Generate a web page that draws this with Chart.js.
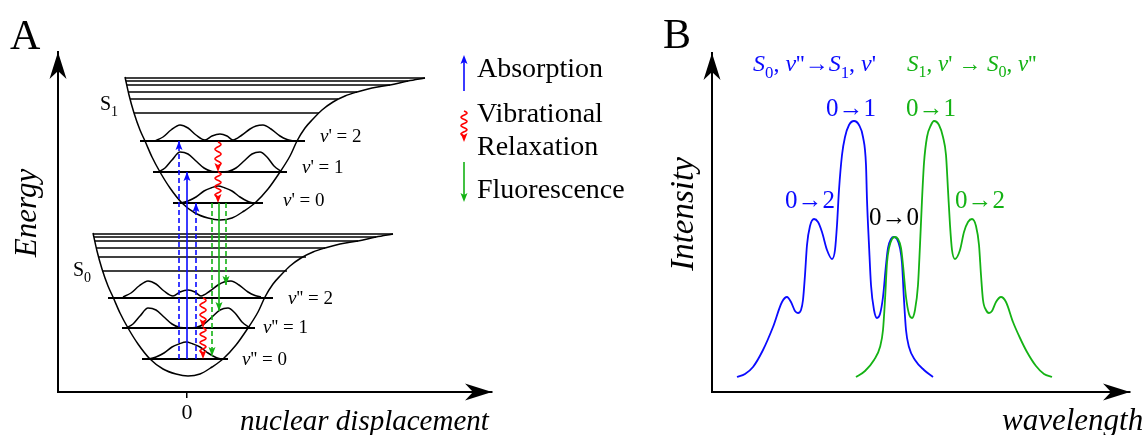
<!DOCTYPE html>
<html>
<head>
<meta charset="utf-8">
<script src="https://cdn.jsdelivr.net/npm/chart.js@4.4.1/dist/chart.umd.min.js"></script>
<style>
  body { margin: 0; background: #fff; }
  #wrap { position: relative; width: 1147px; height: 435px; overflow: hidden; }
  canvas { position: absolute; top: 0; }
</style>
</head>
<body>
<div id="wrap">
  <canvas id="chartA" width="660" height="435" style="left:0"></canvas>
  <canvas id="chartB" width="587" height="435" style="left:560px"></canvas>
</div>
<script>
// ---------- panel A: energy vs nuclear displacement (arb. units) ----------
const s1Well = [[-6.2,31.5],[-5.8,29.7],[-5.3,27.9],[-4.7,26.2],[-4.2,25.1],[-3.5,23.5],[-2.7,22.0],
  [-1.7,20.4],[-0.5,18.9],[0.8,17.9],[2.1,17.4],[3.3,17.2],[4.5,17.4],[5.7,18.1],[6.8,18.9],[8.1,20.3],
  [9.3,22.0],[10.3,23.6],[11.0,25.1],[11.8,26.4],[12.6,27.3],[13.5,28.2],[14.6,29.0],[15.8,29.6],
  [17.0,30.0],[18.5,30.4],[20.3,30.7],[22.1,31.1],[23.8,31.4]];
const s0Well = [[-9.4,15.9],[-9.0,14.1],[-8.5,12.3],[-7.9,10.6],[-7.4,9.5],[-6.7,7.9],[-5.9,6.4],
  [-4.9,4.8],[-3.7,3.3],[-2.4,2.3],[-1.1,1.8],[0.1,1.6],[1.3,1.8],[2.5,2.5],[3.6,3.3],[4.9,4.7],
  [6.1,6.4],[7.1,8.0],[7.8,9.5],[8.6,10.8],[9.4,11.7],[10.3,12.6],[11.4,13.4],[12.6,14.0],
  [13.8,14.4],[15.3,14.8],[17.1,15.1],[18.9,15.5],[20.6,15.8]];

// upper (dense) levels
const s1UpperE = [27.9, 29.3, 30.0, 30.7, 31.1, 31.4];
const s1UpperFrom = [-5.3, -5.7, -5.9, -6.0, -6.1, -6.2];
const s1UpperTo = [13.2, 15.1, 17.0, 20.3, 22.1, 23.8];
const s0UpperE = [12.1, 13.5, 14.4, 15.1, 15.5, 15.8];
const s0UpperFrom = [-8.5, -8.9, -9.1, -9.2, -9.3, -9.4];
const s0UpperTo = [10.0, 11.9, 13.8, 17.1, 18.9, 20.6];

// vibrational levels v = 0, 1, 2
const s1VibE = [18.9, 22.0, 25.1];
const s1VibFrom = [-1.4, -3.4, -4.7];
const s1VibTo = [7.6, 10.0, 11.8];
const s0VibE = [3.3, 6.4, 9.4];
const s0VibFrom = [-4.5, -6.5, -7.9];
const s0VibTo = [4.1, 6.8, 8.6];
const s1VibLabels = ["\u03bd' = 0", "\u03bd' = 1", "\u03bd' = 2"];
const s0VibLabels = ["\u03bd'' = 0", "\u03bd'' = 1", "\u03bd'' = 2"];

// probability densities drawn on the levels
const s1Psi0 = [[-0.7,18.9],[0.1,19.1],[0.9,19.5],[1.7,20.1],[2.4,20.4],[3.1,20.6],[3.8,20.4],[4.5,20.1],[5.3,19.5],[6.0,19.1],[6.6,18.9]];
const s1Psi1 = [[-2.9,22.0],[-2.2,22.4],[-1.5,23.2],[-0.7,24.0],[0.1,23.8],[0.9,23.1],[1.7,22.4],[2.5,22.05],[3.3,22.0],
  [4.1,22.05],[4.9,22.4],[5.7,23.1],[6.5,23.8],[7.3,24.0],[8.0,23.5],[8.7,22.6],[9.5,22.0]];
const s1Psi2 = [[-3.2,25.1],[-2.4,25.5],[-1.6,26.2],[-0.7,26.7],[0.1,26.4],[0.9,25.7],[1.8,25.2],[2.5,25.6],[3.3,25.8],
  [4.0,25.6],[4.6,25.2],[5.5,25.7],[6.3,26.3],[6.9,26.6],[7.6,26.7],[8.4,26.3],[9.3,25.6],[10.0,25.25],[10.6,25.1]];
const s0Psi0 = [[-3.9,3.3],[-3.1,3.5],[-2.3,3.9],[-1.5,4.5],[-0.8,4.8],[-0.1,5.0],[0.6,4.8],[1.3,4.5],[2.1,3.9],[2.8,3.5],[3.4,3.3]];
const s0Psi1 = [[-6.1,6.4],[-5.4,6.8],[-4.7,7.6],[-3.9,8.4],[-3.1,8.2],[-2.3,7.5],[-1.5,6.8],[-0.7,6.45],[0.1,6.4],
  [0.9,6.45],[1.7,6.8],[2.5,7.5],[3.3,8.2],[4.1,8.4],[4.8,7.9],[5.5,7.0],[6.3,6.4]];
const s0Psi2 = [[-6.4,9.5],[-5.6,9.9],[-4.8,10.6],[-3.9,11.1],[-3.1,10.8],[-2.3,10.1],[-1.4,9.6],[-0.7,10.0],[0.1,10.2],
  [0.8,10.0],[1.4,9.6],[2.3,10.1],[3.1,10.7],[3.7,11.0],[4.4,11.1],[5.2,10.7],[6.1,10.0],[6.8,9.65],[7.4,9.5]];

// transitions
const absorbQ = [-0.8, 0.0, 0.9];
const absorbFrom = [3.3, 3.3, 3.3];
const absorbTo = [25.1, 22.0, 18.9];
const emitQ = [2.5, 3.2, 3.9];
const emitFrom = [18.9, 18.9, 18.9];
const emitTo = [3.6, 8.1, 10.7];
const relaxQ = [3.1, 3.1, 1.6, 1.6];
const relaxFrom = [25.0, 22.0, 9.4, 6.4];
const relaxTo = [22.0, 18.9, 6.4, 3.3];
const displacementTicks = [0];

// ---------- panel B: intensity vs wavelength (arb. units) ----------
const absorptionSpectrum = [[2.5,1.5],[3.3,1.8],[4.1,2.5],[5.1,4.2],[6.1,6.5],[7.0,9.0],[7.5,9.5],[7.9,9.0],[8.3,8.1],
  [8.6,7.9],[8.9,8.2],[9.1,9.2],[9.3,11.7],[9.5,14.7],[9.8,16.6],[10.2,17.3],[10.6,17.0],[11.0,16.0],[11.5,14.2],
  [12.0,13.3],[12.3,14.2],[12.5,16.7],[12.7,20.2],[13.0,23.7],[13.3,25.5],[13.7,26.7],[14.2,27.1],[14.7,26.7],
  [15.1,25.5],[15.4,22.7],[15.5,19.2],[15.7,14.7],[15.9,10.7],[16.2,8.2],[16.5,7.4],[16.8,7.8],[17.1,9.5],
  [17.4,12.7],[17.6,14.4],[17.9,15.3],[18.2,15.5],[18.5,15.3],[18.8,14.4],[19.0,12.9],[19.2,9.2],[19.4,6.2],
  [19.7,4.5],[20.3,3.2],[21.2,2.2],[22.1,1.5]];
const emissionSpectrum = [[14.4,1.5],[15.3,2.1],[16.2,3.2],[16.8,4.5],[17.1,6.2],[17.3,9.2],[17.5,12.9],[17.7,14.4],
  [18.0,15.3],[18.25,15.5],[18.6,15.3],[18.9,14.4],[19.1,12.7],[19.4,9.5],[19.7,7.8],[20.0,7.4],[20.3,8.2],
  [20.6,10.7],[20.8,14.7],[21.0,19.2],[21.2,22.9],[21.5,25.5],[21.9,26.7],[22.2,27.1],[22.7,26.7],[23.1,25.5],
  [23.4,23.7],[23.6,20.2],[23.8,16.7],[24.0,14.2],[24.3,13.3],[24.8,14.2],[25.2,16.0],[25.6,17.0],[26.0,17.3],
  [26.4,16.6],[26.7,14.7],[26.9,11.7],[27.1,9.2],[27.4,8.2],[27.7,7.9],[28.0,8.1],[28.4,9.0],[28.9,9.5],
  [29.4,9.0],[30.1,7.0],[30.8,5.4],[31.5,4.0],[32.4,2.6],[33.2,1.8],[34.0,1.5]];
const peakLabels = ['0\u21921', '0\u21922', '0\u21920'];

// ---------- helpers ----------
const BLUE = 'rgb(10,10,255)';
const GREEN = 'rgb(20,178,20)';
const RED = 'rgb(255,0,0)';
const SERIF = '"Liberation Serif", "DejaVu Serif", serif';

const pts = arr => arr.map(p => ({ x: p[0], y: p[1] }));

function curve(arr, color, width) {
  return { data: pts(arr), showLine: true, borderColor: color, borderWidth: width,
    pointRadius: 0, cubicInterpolationMode: 'monotone', fill: false, order: 2 };
}
function segment(x0, y0, x1, y1, color, width, dash, arrow) {
  return { data: [{ x: x0, y: y0 }, { x: x1, y: y1 }], showLine: true, borderColor: color,
    borderWidth: width, borderDash: dash || [], pointRadius: 0, tension: 0, order: arrow ? 1 : 2, arrowHead: !!arrow };
}

function head(ctx, x, y, ang, len, half, notch, color) {
  ctx.save();
  ctx.translate(x, y);
  ctx.rotate(ang);
  ctx.beginPath();
  ctx.moveTo(0, 0);
  ctx.lineTo(-len, -half);
  ctx.lineTo(-len + notch, 0);
  ctx.lineTo(-len, half);
  ctx.closePath();
  ctx.fillStyle = color;
  ctx.fill();
  ctx.restore();
}

// wavy downward arrow between two pixel heights
function squiggle(ctx, x, y0, y1, color) {
  const hl = 8, L = y1 - y0 - hl + 2;
  const cycles = Math.max(1.5, Math.round(L / 9 * 2) / 2);
  ctx.save();
  ctx.strokeStyle = color;
  ctx.lineWidth = 1.5;
  ctx.beginPath();
  for (let s = 0; s <= L; s += 0.5) {
    const xx = x + 3 * Math.sin(s / L * cycles * 2 * Math.PI);
    if (s === 0) ctx.moveTo(xx, y0 + s); else ctx.lineTo(xx, y0 + s);
  }
  ctx.stroke();
  ctx.restore();
  head(ctx, x, y1, Math.PI / 2, 9, 3.5, 2, color);
}

function rich(ctx, parts, x, y, size, color, align) {
  const font = st => (st.includes('i') ? 'italic ' : '') + (st.includes('s') ? size * 0.7 : size) + 'px ' + SERIF;
  let w = 0;
  parts.forEach(([t, st]) => { ctx.font = font(st); w += ctx.measureText(t).width; });
  let cx = align === 'center' ? x - w / 2 : x;
  ctx.fillStyle = color;
  ctx.textAlign = 'left';
  ctx.textBaseline = 'alphabetic';
  parts.forEach(([t, st]) => {
    ctx.font = font(st);
    ctx.fillText(t, cx, y + (st.includes('s') ? size * 0.28 : 0));
    cx += ctx.measureText(t).width;
  });
}

function vertical(ctx, text, x, y, size) {
  ctx.save();
  ctx.translate(x, y);
  ctx.rotate(-Math.PI / 2);
  ctx.font = 'italic ' + size + 'px ' + SERIF;
  ctx.fillStyle = '#000';
  ctx.textAlign = 'center';
  ctx.textBaseline = 'alphabetic';
  ctx.fillText(text, 0, 0);
  ctx.restore();
}

const arrowPlugin = {
  id: 'arrows',
  afterDatasetsDraw(chart) {
    const ctx = chart.ctx;
    chart.data.datasets.forEach((ds, i) => {
      if (!ds.arrowHead) return;
      const el = chart.getDatasetMeta(i).data;
      const a = el[el.length - 2], b = el[el.length - 1];
      head(ctx, b.x, b.y, Math.atan2(b.y - a.y, b.x - a.x), 9, 3.5, 2, ds.borderColor);
    });
    // axis arrowheads
    const ca = chart.chartArea;
    head(ctx, ca.left, ca.top, -Math.PI / 2, 27, 8.5, 8, '#000');
    head(ctx, ca.right, ca.bottom, 0, 27, 8.5, 8, '#000');
  }
};

function baseOptions(xmin, xmax, ymax, padding, xTicks) {
  return {
    responsive: false,
    animation: false,
    events: [],
    layout: { padding },
    plugins: { legend: { display: false }, tooltip: { enabled: false } },
    scales: {
      x: {
        type: 'linear', min: xmin, max: xmax,
        border: { display: true, color: '#000', width: 2 },
        grid: { display: !!xTicks, drawOnChartArea: false, drawTicks: !!xTicks, tickLength: 6, color: '#000', lineWidth: 1.5 },
        ticks: { display: !!xTicks, color: '#000', padding: 2, font: { family: SERIF, size: 22 } },
        afterBuildTicks: axis => { if (xTicks) axis.ticks = xTicks.map(v => ({ value: v })); }
      },
      y: {
        type: 'linear', min: 0, max: ymax,
        border: { display: true, color: '#000', width: 2 },
        grid: { display: false, drawTicks: false },
        ticks: { display: false }
      }
    }
  };
}

// ---------- chart A ----------
const dsA = [];
s1UpperE.forEach((e, i) => dsA.push(segment(s1UpperFrom[i], e, s1UpperTo[i], e, '#000', 1.5)));
s0UpperE.forEach((e, i) => dsA.push(segment(s0UpperFrom[i], e, s0UpperTo[i], e, '#000', 1.5)));
s1VibE.forEach((e, i) => dsA.push(segment(s1VibFrom[i], e, s1VibTo[i], e, '#000', 2)));
s0VibE.forEach((e, i) => dsA.push(segment(s0VibFrom[i], e, s0VibTo[i], e, '#000', 2)));
[s1Well, s0Well].forEach(w => dsA.push(curve(w, '#000', 1.5)));
[s1Psi0, s1Psi1, s1Psi2, s0Psi0, s0Psi1, s0Psi2].forEach(p => dsA.push(curve(p, '#000', 1.5)));
absorbQ.forEach((q, i) => dsA.push(segment(q, absorbFrom[i], q, absorbTo[i], BLUE, 1.6, i === 1 ? [] : [5, 3], true)));
emitQ.forEach((q, i) => dsA.push(segment(q, emitFrom[i], q, emitTo[i], GREEN, 1.6, i === 1 ? [] : [5, 3], true)));

const panelAText = {
  id: 'panelAText',
  afterDraw(chart) {
    const ctx = chart.ctx, xs = chart.scales.x, ys = chart.scales.y;
    relaxQ.forEach((q, i) => squiggle(ctx, xs.getPixelForValue(q), ys.getPixelForValue(relaxFrom[i]), ys.getPixelForValue(relaxTo[i]), RED));

    rich(ctx, [['A', '']], 10, 49, 42, '#000');
    rich(ctx, [['S', ''], ['1', 's']], 100, 110, 20, '#000');
    rich(ctx, [['S', ''], ['0', 's']], 73, 276, 20, '#000');

    const vibLabelPos = [[283, 206], [302, 173], [320, 142], [242, 365], [263, 333], [288, 304]];
    s1VibLabels.concat(s0VibLabels).forEach((t, i) => {
      rich(ctx, [[t.slice(0, 1), 'i'], [t.slice(1), '']], vibLabelPos[i][0], vibLabelPos[i][1], 19, '#000');
    });

    // legend
    ctx.save();
    ctx.lineWidth = 1.6;
    ctx.strokeStyle = BLUE;
    ctx.beginPath(); ctx.moveTo(464, 91); ctx.lineTo(464, 58); ctx.stroke();
    head(ctx, 464, 55, -Math.PI / 2, 9, 3.5, 2, BLUE);
    ctx.strokeStyle = GREEN;
    ctx.beginPath(); ctx.moveTo(464, 162); ctx.lineTo(464, 198); ctx.stroke();
    head(ctx, 464, 202, Math.PI / 2, 9, 3.5, 2, GREEN);
    ctx.restore();
    squiggle(ctx, 464, 111, 142, RED);
    rich(ctx, [['Absorption', '']], 477, 77, 28, '#000');
    rich(ctx, [['Vibrational', '']], 477, 122, 28, '#000');
    rich(ctx, [['Relaxation', '']], 477, 155, 28, '#000');
    rich(ctx, [['Fluorescence', '']], 477, 198, 28, '#000');

    vertical(ctx, 'Energy', 36, 213, 31);
    rich(ctx, [['nuclear displacement', 'i']], 240, 430, 29, '#000');
  }
};

new Chart(document.getElementById('chartA'), {
  type: 'scatter',
  data: { datasets: dsA },
  options: baseOptions(-12.9, 30.5, 34.0, { left: 58, right: 168, top: 52, bottom: 6.6 }, displacementTicks),
  plugins: [arrowPlugin, panelAText]
});

// ---------- chart B ----------
const panelBText = {
  id: 'panelBText',
  afterDraw(chart) {
    const ctx = chart.ctx;
    rich(ctx, [['B', '']], 103, 48, 42, '#000');
    rich(ctx, [['S', 'i'], ['0', 's'], [', ', ''], ['\u03bd', 'i'], ["''\u2192", ''], ['S', 'i'], ['1', 's'], [', ', ''], ['\u03bd', 'i'], ["'", '']], 193, 71, 24, BLUE);
    rich(ctx, [['S', 'i'], ['1', 's'], [', ', ''], ['\u03bd', 'i'], ["' \u2192 ", ''], ['S', 'i'], ['0', 's'], [', ', ''], ['\u03bd', 'i'], ["''", '']], 347, 71, 23, GREEN);
    rich(ctx, [[peakLabels[0], '']], 291, 116, 25, BLUE, 'center');
    rich(ctx, [[peakLabels[0], '']], 371, 116, 25, GREEN, 'center');
    rich(ctx, [[peakLabels[1], '']], 250, 208, 25, BLUE, 'center');
    rich(ctx, [[peakLabels[1], '']], 420, 208, 25, GREEN, 'center');
    rich(ctx, [[peakLabels[2], '']], 334, 225, 25, '#000', 'center');
    vertical(ctx, 'Intensity', 133, 214, 33);
    rich(ctx, [['wavelength', 'i']], 442, 430, 31, '#000');
  }
};

new Chart(document.getElementById('chartB'), {
  type: 'scatter',
  data: {
    datasets: [
      curve(emissionSpectrum, GREEN, 1.8),
      curve(absorptionSpectrum, BLUE, 1.8)
    ]
  },
  options: baseOptions(0, 41.8, 33.9, { left: 152, right: 17, top: 53, bottom: 43 }, null),
  plugins: [arrowPlugin, panelBText]
});
</script>
</body>
</html>
